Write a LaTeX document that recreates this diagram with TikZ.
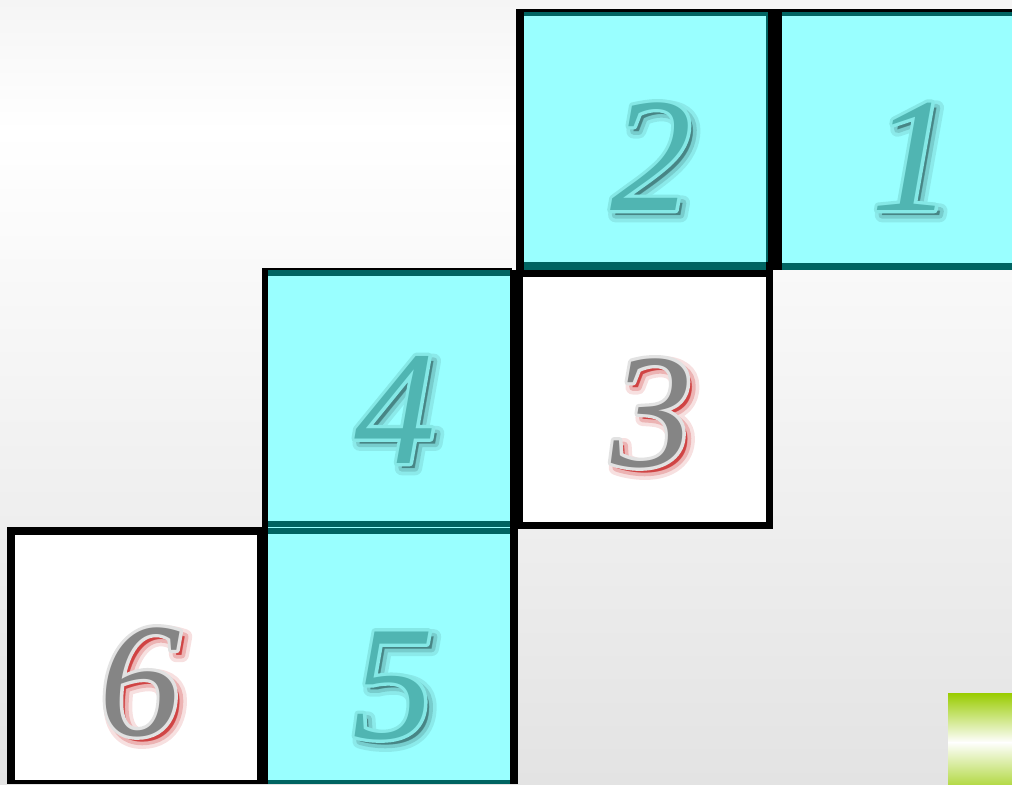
\documentclass[tikz,border=0pt]{standalone}
\usepackage{fontspec}
\setmainfont{Liberation Serif}
\newfontfamily\digfill{Liberation Serif}[UprightFont=*-Italic]
\newfontfamily\digline{Liberation Serif}[UprightFont=*-Italic,FakeBold=4]
\newfontfamily\digshA{Liberation Serif}[UprightFont=*-Italic,FakeBold=9]
\newfontfamily\digshB{Liberation Serif}[UprightFont=*-Italic,FakeBold=4.5]
\usetikzlibrary{calc}
\definecolor{cyanfill}{HTML}{99FFFF}
\definecolor{tealline}{HTML}{006462}
\definecolor{digcyan}{HTML}{50B5B2}
\definecolor{digcyanout}{HTML}{85E8E6}
\definecolor{digcyansh}{HTML}{2A5A5A}
\definecolor{diggray}{HTML}{858585}
\definecolor{diggrayout}{HTML}{E2E2E2}
\definecolor{diggraysh}{HTML}{C00000}
\definecolor{bgtop}{HTML}{F5F5F5}
\definecolor{bgbot}{HTML}{E3E3E3}
\definecolor{lime}{HTML}{99CC00}
\definecolor{limebot}{HTML}{B5DA4A}
\tikzset{dig/.style={inner sep=0pt, anchor=base, line join=round}}
\newcommand\fancydigit[6]{%
  \node[dig,text=#6,opacity=0.12,font=\fontsize{122}{122}\digshA] (#1sa) at ($#2+(5,5)$) {#3};
  \node[dig,text=#6,opacity=0.2,font=\fontsize{122}{122}\digshB] (#1sb) at ($#2+(5,5)$) {#3};
  \node[dig,text=#6,opacity=0.45,font=\fontsize{122}{122}\digfill] (#1sc) at ($#2+(5,5)$) {#3};
  \node[dig,text=#5,font=\fontsize{122}{122}\digline] (#1o) at #2 {#3};
  \node[dig,text=#4,font=\fontsize{122}{122}\digfill] (#1) at #2 {#3};
}
\begin{document}
\begin{tikzpicture}[x=0.75pt,y=-0.75pt,line join=round]
\useasboundingbox (0,0) rectangle (1012,784);
\clip (0,0) rectangle (1012,784);
% background
\shade[top color=bgtop, bottom color=white] (0,0) rectangle (1012,131);
\shade[top color=white, bottom color=bgbot] (0,130) rectangle (1012,784);
% cell 2
\fill[tealline] (519,12) rectangle (770,270);
\fill[cyanfill] (521,16) rectangle (766,262);
% cell 1
\fill[tealline] (778,12) rectangle (1012,270);
\fill[cyanfill] (782,16) rectangle (1012,263);
\fill[black] (517,9) rectangle (1012,12);
\fill[black] (516,9) rectangle (524,277);
\fill[black] (768,9) rectangle (782,270);
% cell 4
\fill[tealline] (266,270) rectangle (512,527);
\fill[cyanfill] (268,276) rectangle (510,521);
\fill[black] (262,268) rectangle (268,527);
\fill[black] (262,268) rectangle (512,270);
% cell 3
\fill[white] (516,270) rectangle (773,529);
\fill[black] (510,270) rectangle (773,277);
\fill[black] (510,270) rectangle (523,529);
\fill[black] (766,262) rectangle (773,529);
\fill[black] (510,522) rectangle (773,529);
% cell 5
\fill[tealline] (266,528) rectangle (512,784);
\fill[cyanfill] (268,534) rectangle (510,780);
\fill[cyanfill] (268,527) rectangle (510,528);
\fill[black] (257,527) rectangle (268,784);
\fill[black] (510,527) rectangle (518,784);
% cell 6
\fill[white] (15,533) rectangle (257,780);
\fill[black] (7,527) rectangle (15,784);
\fill[black] (7,527) rectangle (268,535);
\fill[black] (7,780) rectangle (268,784);
% green block
\shade[top color=lime, bottom color=white] (948,693) rectangle (1012,742.5);
\shade[top color=white, bottom color=limebot] (948,742) rectangle (1012,784);
% digits
\fancydigit{dtwo}{(651,210)}{2}{digcyan}{digcyanout}{digcyansh}
\fancydigit{done}{(912,210)}{1}{digcyan}{digcyanout}{digcyansh}
\fancydigit{dfour}{(395,463)}{4}{digcyan}{digcyanout}{digcyansh}
\fancydigit{dthree}{(652,466)}{3}{diggray}{diggrayout}{diggraysh}
\fancydigit{dsix}{(140,735)}{6}{diggray}{diggrayout}{diggraysh}
\fancydigit{dfive}{(393,738)}{5}{digcyan}{digcyanout}{digcyansh}
\end{tikzpicture}
\end{document}
